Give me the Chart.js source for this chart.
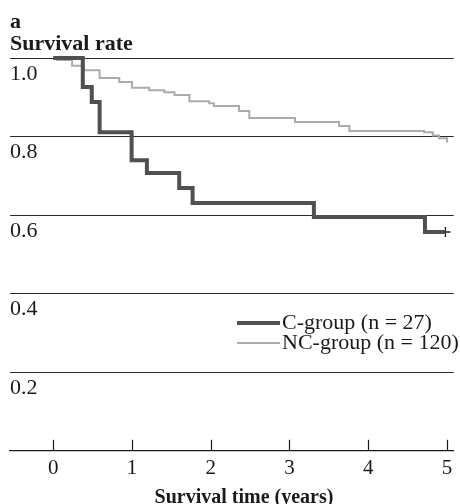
<!DOCTYPE html>
<html>
<head>
<meta charset="utf-8">
<script src="https://cdn.jsdelivr.net/npm/chart.js@4.4.1/dist/chart.umd.min.js"></script>
<style>
  html, body { margin: 0; padding: 0; background: #fff; }
  canvas { display: block; }
</style>
</head>
<body>
<canvas id="chart" width="460" height="504"></canvas>
<script>
// Kaplan-Meier curves
const cTimes = [0, 0.376, 0.49, 0.59, 0.996, 1.19, 1.60, 1.77, 3.31, 4.72, 4.98];
const cSurv  = [1.0, 0.926, 0.888, 0.811, 0.740, 0.707, 0.669, 0.631, 0.595, 0.557, 0.557];

const ncTimes = [0, 0.05, 0.24, 0.39, 0.59, 0.84, 1.0, 1.22, 1.41, 1.54, 1.73, 1.98, 2.04, 2.36, 2.49, 3.07, 3.63, 3.76, 4.71, 4.82, 4.90, 5.0];
const ncSurv  = [1.0, 0.995, 0.98, 0.969, 0.949, 0.939, 0.924, 0.918, 0.913, 0.906, 0.89, 0.885, 0.878, 0.865, 0.847, 0.837, 0.827, 0.814, 0.811, 0.803, 0.796, 0.785];

const censorTimes = [4.98];
const censorSurv = [0.557];

const xTicks = [0, 1, 2, 3, 4, 5];
const yTicks = [0.2, 0.4, 0.6, 0.8, 1.0];

const groupLabels = ['C-group (n = 27)', 'NC-group (n = 120)'];
const yTitle = 'Survival rate';
const xTitle = 'Survival time (years)';
const panelLabel = 'a';

const serif = '"Liberation Serif", "DejaVu Serif", serif';
const ink = '#1a1a1a';
const cColor = '#505050';
const ncColor = '#ababab';

const toPts = (xs, ys) => xs.map((x, i) => ({ x: x, y: ys[i] }));

// upward tick marks, titles and the legend
const extras = {
  id: 'extras',
  afterDraw(chart) {
    const ctx = chart.ctx;
    const xs = chart.scales.x;
    const area = chart.chartArea;
    ctx.save();
    ctx.strokeStyle = ink;
    ctx.lineWidth = 1.2;
    xTicks.forEach((t) => {
      const px = Math.round(xs.getPixelForValue(t)) + 0.5;
      ctx.beginPath();
      ctx.moveTo(px, area.bottom);
      ctx.lineTo(px, area.bottom - 11);
      ctx.stroke();
    });

    ctx.fillStyle = ink;
    ctx.textAlign = 'left';
    ctx.textBaseline = 'alphabetic';
    ctx.font = 'bold 22px ' + serif;
    ctx.fillText(panelLabel, 10, 28);
    ctx.fillText(yTitle, 10, 50);

    ctx.textAlign = 'center';
    ctx.font = 'bold 20px ' + serif;
    ctx.fillText(xTitle, 244, 503);

    // legend
    const ds = chart.data.datasets;
    ctx.font = '22px ' + serif;
    ctx.textAlign = 'left';
    ctx.textBaseline = 'middle';
    [323, 343].forEach((y, i) => {
      ctx.strokeStyle = ds[i].borderColor;
      ctx.lineWidth = ds[i].borderWidth;
      ctx.beginPath();
      ctx.moveTo(237, y);
      ctx.lineTo(280, y);
      ctx.stroke();
      ctx.fillStyle = ink;
      ctx.fillText(ds[i].label, 282, y);
    });
    ctx.restore();
  }
};

new Chart(document.getElementById('chart'), {
  type: 'scatter',
  data: {
    datasets: [
      {
        label: groupLabels[0],
        data: toPts(cTimes, cSurv),
        showLine: true,
        stepped: true,
        borderColor: cColor,
        borderWidth: 4,
        pointRadius: 0,
        clip: false
      },
      {
        label: groupLabels[1],
        data: toPts(ncTimes, ncSurv),
        showLine: true,
        stepped: true,
        borderColor: ncColor,
        borderWidth: 2,
        pointRadius: 0,
        clip: false
      },
      {
        label: 'censored',
        data: toPts(censorTimes, censorSurv),
        showLine: false,
        pointStyle: 'cross',
        pointRadius: 5,
        borderColor: ink,
        borderWidth: 1.3,
        clip: false
      }
    ]
  },
  options: {
    responsive: false,
    animation: false,
    devicePixelRatio: 1,
    layout: { padding: { left: 10, right: 5, top: 58, bottom: 18 } },
    plugins: {
      legend: { display: false },
      tooltip: { enabled: false }
    },
    scales: {
      x: {
        type: 'linear',
        min: -0.548,
        max: 5.085,
        afterBuildTicks: (s) => { s.ticks = xTicks.map((v) => ({ value: v })); },
        grid: { display: false, drawTicks: false },
        border: { display: true, color: ink, width: 1.2 },
        ticks: {
          padding: 5,
          color: ink,
          font: { family: serif, size: 21 },
          maxRotation: 0,
          autoSkip: false
        }
      },
      y: {
        min: 0,
        max: 1.0,
        afterBuildTicks: (s) => { s.ticks = yTicks.map((v) => ({ value: v })); },
        grid: { color: '#2a2a2a', lineWidth: 1, drawTicks: false },
        border: { display: false },
        ticks: {
          mirror: true,
          padding: 0,
          labelOffset: 16,
          color: ink,
          font: { family: serif, size: 22 },
          callback: (v) => Number(v).toFixed(1)
        }
      }
    }
  },
  plugins: [extras]
});
</script>
</body>
</html>
